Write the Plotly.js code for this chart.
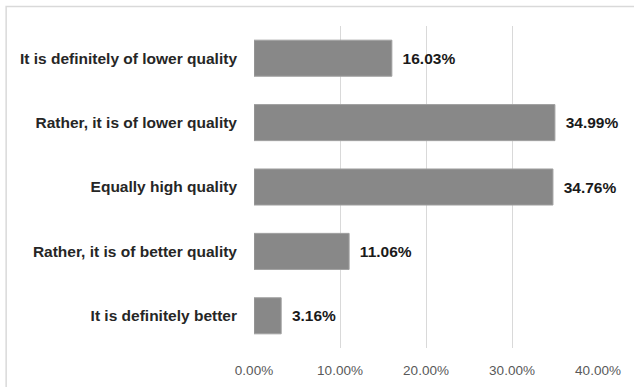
<!DOCTYPE html>
<html>
<head>
<meta charset="utf-8">
<script src="https://cdn.plot.ly/plotly-3.0.1.min.js"></script>
<style>html,body{margin:0;padding:0;background:#fff;}#chart{width:634px;height:387px;}</style>
</head>
<body>
<div id="chart"></div>
<script>
const categories = [
  "It is definitely of lower quality",
  "Rather, it is of lower quality",
  "Equally high quality",
  "Rather, it is of better quality",
  "It is definitely better"
];
const values = [16.03, 34.99, 34.76, 11.06, 3.16];
const tickVals = [0, 10, 20, 30, 40];
const tickText = ["0.00%", "10.00%", "20.00%", "30.00%", "40.00%"];

const L = 253.5, R = 597.7, T = 26, B = 348, W = 634, H = 387;
const px2x = p => (p - L) / (R - L);
const py2y = p => (B - p) / (B - T);

const trace = {
  type: "bar",
  orientation: "h",
  y: categories,
  x: values,
  text: values.map(v => "\u2002" + v.toFixed(2) + "%"),
  textposition: "outside",
  cliponaxis: false,
  textfont: {family: "Liberation Sans, Arial, sans-serif", size: 15.5, color: "#1a1a1a", weight: "bold"},
  marker: {color: "#888888", line: {color: "#a0a0a0", width: 1}},
  width: 0.56,
  hoverinfo: "skip"
};

const layout = {
  width: W, height: H,
  margin: {l: L, r: W - R, t: T, b: H - B, pad: 0},
  paper_bgcolor: "#fff", plot_bgcolor: "#fff",
  showlegend: false,
  font: {family: "Liberation Sans, Arial, sans-serif"},
  xaxis: {
    range: [0, 40],
    tickvals: tickVals, ticktext: tickText,
    showgrid: true, gridcolor: "#d9d9d9", gridwidth: 1,
    zeroline: false, showline: false, ticks: "",
    ticklabelstandoff: 12,
    tickfont: {size: 13.5, color: "#595959"},
    fixedrange: true
  },
  yaxis: {
    autorange: "reversed",
    showgrid: false, zeroline: false, showline: false, ticks: "",
    ticklabelstandoff: 16,
    tickfont: {size: 15.5, color: "#262626", weight: "bold"},
    fixedrange: true
  },
  shapes: [{
    type: "rect", xref: "paper", yref: "paper",
    x0: px2x(5.5), x1: px2x(645), y0: py2y(6.5), y1: py2y(400),
    line: {color: "#d9d9d9", width: 1.5}, fillcolor: "rgba(0,0,0,0)", layer: "below"
  }]
};

Plotly.newPlot("chart", [trace], layout, {staticPlot: true, displayModeBar: false});
</script>
</body>
</html>
